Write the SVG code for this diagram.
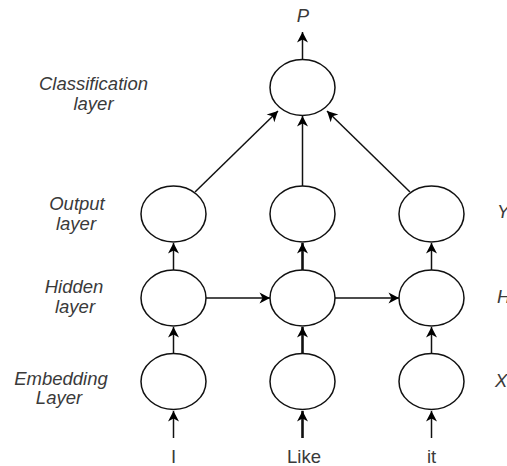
<svg xmlns="http://www.w3.org/2000/svg" width="507" height="466" viewBox="0 0 507 466">
<defs>
<marker id="ah" viewBox="-11 -6 12 12" refX="0" refY="0" markerWidth="12" markerHeight="12" markerUnits="userSpaceOnUse" orient="auto">
<path d="M0,0 L-10.5,-5.5 L-7.5,0 L-10.5,5.5 Z" fill="#000"/>
</marker>
<style>
.n{fill:#fff;stroke:#111;stroke-width:1.5}
.c{stroke:#111;stroke-width:1.5;fill:none;marker-end:url(#ah)}
.t{stroke-width:2.6}
.l{font-family:"Liberation Sans",Arial,sans-serif;font-style:italic;font-size:18.5px;fill:#3a3a3a;text-anchor:middle}
.w{font-family:"Liberation Sans",Arial,sans-serif;font-size:18.5px;fill:#3a3a3a;text-anchor:middle}
</style>
</defs>
<rect width="507" height="466" fill="#fff"/>
<g id="connectors">
<line class="c" x1="302.5" y1="59" x2="302.5" y2="32"/>
<line class="c" x1="195" y1="192" x2="278" y2="111"/>
<line class="c" x1="302.5" y1="186" x2="302.5" y2="116"/>
<line class="c" x1="410" y1="192" x2="327" y2="111"/>
<line class="c" x1="173.5" y1="270" x2="173.5" y2="243"/>
<line class="c t" x1="302.5" y1="270" x2="302.5" y2="243"/>
<line class="c" x1="431.5" y1="270" x2="431.5" y2="243"/>
<line class="c" x1="206" y1="298" x2="270" y2="298"/>
<line class="c" x1="335" y1="298" x2="399" y2="298"/>
<line class="c" x1="173.5" y1="353" x2="173.5" y2="327"/>
<line class="c t" x1="302.5" y1="353" x2="302.5" y2="327"/>
<line class="c" x1="431.5" y1="353" x2="431.5" y2="327"/>
<line class="c" x1="173.5" y1="438" x2="173.5" y2="411"/>
<line class="c t" x1="302.5" y1="438" x2="302.5" y2="411"/>
<line class="c" x1="431.5" y1="438" x2="431.5" y2="411"/>
</g>
<g id="cls"><ellipse class="n" cx="302.5" cy="87.5" rx="32.5" ry="28"/></g>
<g id="out1"><ellipse class="n" cx="173.5" cy="214" rx="32.5" ry="28"/></g>
<g id="out2"><ellipse class="n" cx="302.5" cy="214" rx="32.5" ry="28"/></g>
<g id="out3"><ellipse class="n" cx="431.5" cy="214" rx="32.5" ry="28"/></g>
<g id="hid1"><ellipse class="n" cx="173.5" cy="298" rx="32.5" ry="28"/></g>
<g id="hid2"><ellipse class="n" cx="302.5" cy="298" rx="32.5" ry="28"/></g>
<g id="hid3"><ellipse class="n" cx="431.5" cy="298" rx="32.5" ry="28"/></g>
<g id="emb1"><ellipse class="n" cx="173.5" cy="381.5" rx="32.5" ry="28"/></g>
<g id="emb2"><ellipse class="n" cx="302.5" cy="381.5" rx="32.5" ry="28"/></g>
<g id="emb3"><ellipse class="n" cx="431.5" cy="381.5" rx="32.5" ry="28"/></g>
<g id="labels">
<text class="l" x="303" y="22">P</text>
<text class="l" x="93.5" y="90">Classification</text>
<text class="l" x="93.5" y="110">layer</text>
<text class="l" x="77" y="210">Output</text>
<text class="l" x="76" y="230">layer</text>
<text class="l" x="74" y="293">Hidden</text>
<text class="l" x="75" y="313">layer</text>
<text class="l" x="61" y="385">Embedding</text>
<text class="l" x="59" y="404">Layer</text>
<text class="l" x="497" y="218" style="text-anchor:start">Y</text>
<text class="l" x="497" y="303" style="text-anchor:start">H</text>
<text class="l" x="495" y="387" style="text-anchor:start">X</text>
<text class="w" x="173.5" y="463">I</text>
<text class="w" x="304" y="463">Like</text>
<text class="w" x="431.5" y="463">it</text>
</g>
</svg>
